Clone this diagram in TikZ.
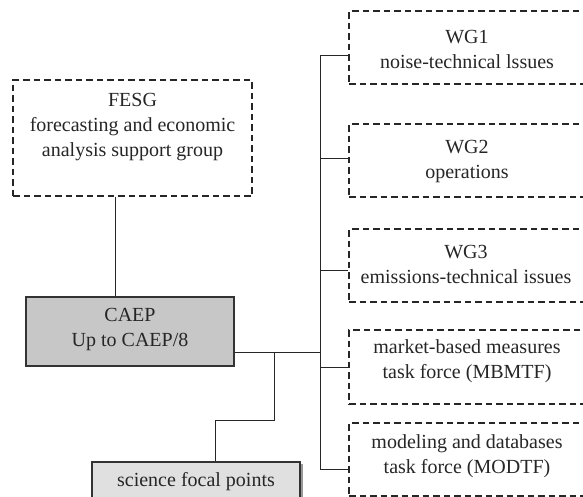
\documentclass[tikz,border=0pt]{standalone}
\usepackage{fontspec}
\setmainfont{Liberation Serif}
\begin{document}
\begin{tikzpicture}[x=1pt,y=-1pt,
  dbox/.style={draw=black!85, dash pattern=on 6.5pt off 4pt, line width=1.1pt, inner sep=0pt, rectangle},
  gbox/.style={draw=black!80, line width=1.1pt, inner sep=0pt, rectangle},
  txt/.style={align=center, font=\fontsize{20}{25}\selectfont, text=black!85, inner sep=0pt},
  conn/.style={draw=black!85, line width=1pt}]
\useasboundingbox (0,0) rectangle (583,496);
\clip (0,0) rectangle (583,496);
\fill[white] (0,0) rectangle (583,496);

% boxes
\node[dbox, minimum width=239pt, minimum height=116pt] (fesg) at (132.5,138) {};
\node[gbox, fill=black!22, minimum width=208pt, minimum height=69pt] (caep) at (130,331.5) {};
\draw[black!40, line width=2pt] ([shift={(2,2)}]300,462) -- ([shift={(2,0)}]300,502);
\node[gbox, fill=black!12, minimum width=208pt, minimum height=40pt] (sci) at (196,482) {};

\node[dbox, minimum width=236pt, minimum height=73pt] (wg1) at (467,47.5) {};
\node[dbox, minimum width=236pt, minimum height=73pt] (wg2) at (467,160.5) {};
\node[dbox, minimum width=236pt, minimum height=73pt] (wg3) at (467,265.5) {};
\node[dbox, minimum width=236pt, minimum height=74pt] (mbm) at (467,367) {};
\node[dbox, minimum width=236pt, minimum height=73pt] (mod) at (467,459.5) {};

% texts
\node[txt] (fesgT) at (132.5,127) {FESG\\forecasting and economic\\analysis support group};
\node[txt] (caepT) at (130,329) {CAEP\\Up to CAEP/8};
\node[txt] (sciT) at (196,482) {science focal points};
\node[txt] (wg1T) at (467,49.5) {WG1\\noise-technical lssues};
\node[txt] (wg2T) at (467,162) {WG2\\operations};
\node[txt] (wg3T) at (466,264) {WG3\\emissions-technical issues};
\node[txt] (mbmT) at (467,361) {market-based measures\\task force (MBMTF)};
\node[txt] (modT) at (467,456) {modeling and databases\\task force (MODTF)};

% connectors
\coordinate (tr1) at (320,55);
\coordinate (tr2) at (320,158);
\coordinate (tr3) at (320,270);
\coordinate (tr4) at (320,367);
\coordinate (tr5) at (320,469);
\coordinate (cj) at (320,352);
\draw[conn] (tr1) -- (tr5);
\draw[conn] (tr1) -- (tr1 -| wg1.west);
\draw[conn] (tr2) -- (tr2 -| wg2.west);
\draw[conn] (tr3) -- (tr3 -| wg3.west);
\draw[conn] (tr4) -- (tr4 -| mbm.west);
\draw[conn] (tr5) -- (tr5 -| mod.west);
\draw[conn] (caep.east |- cj) -- (cj);

\coordinate (s1) at (274,352);
\coordinate (s2) at (274,420);
\coordinate (s3) at (215,420);
\draw[conn] (s1) -- (s2) -- (s3) -- (s3 |- sci.north);

\coordinate (f1) at (115,0);
\draw[conn] (fesg.south -| f1) -- (caep.north -| f1);
\end{tikzpicture}
\end{document}
